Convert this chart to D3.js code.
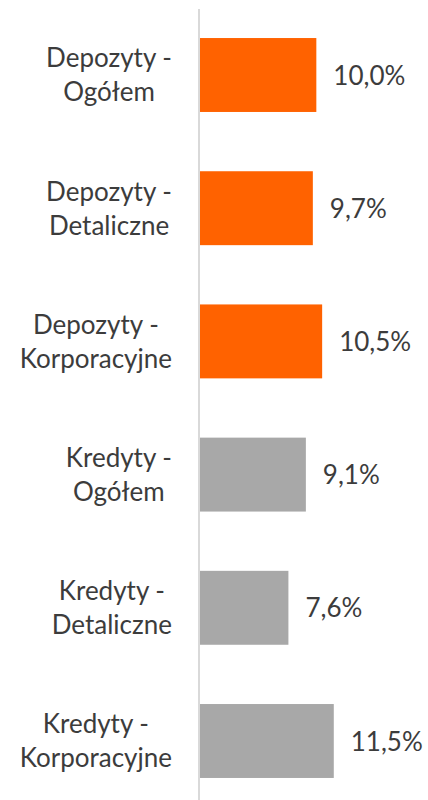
<!DOCTYPE html>
<html>
<head>
<meta charset="utf-8">
<script src="https://cdn.jsdelivr.net/npm/d3@7"></script>
<style>
  body { margin: 0; background: #fff; }
  svg { display: block; }
  text { font-family: Lato, "Open Sans", sans-serif; }
</style>
</head>
<body>
<div id="chart"></div>
<script>
const w = 428, h = 800;

// data
const categories = [
  ["Depozyty -", "Ogółem"],
  ["Depozyty -", "Detaliczne"],
  ["Depozyty -", "Korporacyjne"],
  ["Kredyty -", "Ogółem"],
  ["Kredyty -", "Detaliczne"],
  ["Kredyty -", "Korporacyjne"]
];
const values = [10.0, 9.7, 10.5, 9.1, 7.6, 11.5];
const groups = ["dep", "dep", "dep", "kred", "kred", "kred"];

const colOrange = "#ff6200";
const colGrey = "#a8a8a8";
const colText = "#3c3c3c";
const fontSize = 26;

const rows = values.map((v, i) => ({ id: i, lines: categories[i], value: v, group: groups[i] }));

const svg = d3.select("#chart").append("svg")
  .attr("width", w).attr("height", h);

const x = d3.scaleLinear().domain([0, 12]).range([200, 339.6]);
const y = d3.scaleBand()
  .domain(rows.map(d => d.id))
  .range([8.4, 807.6])
  .paddingInner(0.445)
  .paddingOuter(0.2225);

const color = d3.scaleOrdinal().domain(["dep", "kred"]).range([colOrange, colGrey]);

svg.append("g").selectAll("rect")
  .data(rows)
  .join("rect")
    .attr("x", x(0))
    .attr("y", d => y(d.id))
    .attr("width", d => x(d.value) - x(0))
    .attr("height", y.bandwidth())
    .attr("fill", d => color(d.group));

// vertical axis line
svg.append("line")
  .attr("x1", x(0) - 1).attr("x2", x(0) - 1)
  .attr("y1", 9).attr("y2", h)
  .attr("stroke", "#d9d9d9")
  .attr("stroke-width", 2);

const fmt = v => d3.format(".1f")(v).replace(".", ",") + "%";

svg.append("g").selectAll("text")
  .data(rows)
  .join("text")
    .attr("x", d => x(d.value) + 17)
    .attr("y", d => y(d.id) + y.bandwidth() / 2)
    .attr("dy", "0.37em")
    .attr("font-size", fontSize)
    .attr("fill", colText)
    .text(d => fmt(d.value));

// category labels: two lines, centred on each other, block right-aligned at 172
const labelRight = 172;
const lineGap = 34;
const lab = svg.append("g").selectAll("g")
  .data(rows)
  .join("g");

lab.each(function(d) {
  const g = d3.select(this);
  const cy = y(d.id) + y.bandwidth() / 2;
  const ts = d.lines.map((t, j) => g.append("text")
    .attr("font-size", fontSize)
    .attr("fill", colText)
    .attr("text-anchor", "middle")
    .attr("y", cy - lineGap / 2 + j * lineGap)
    .attr("dy", "0.36em")
    .text(t));
  const maxW = d3.max(ts, t => t.node().getComputedTextLength());
  ts.forEach(t => t.attr("x", labelRight - maxW / 2));
});
</script>
</body>
</html>
